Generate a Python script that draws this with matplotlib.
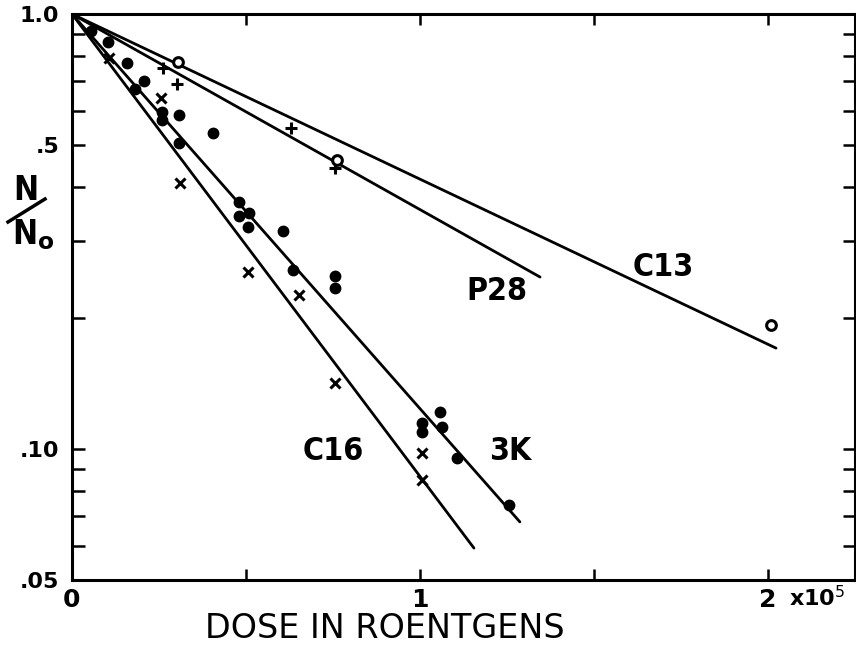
import numpy as np
import matplotlib.pyplot as plt
from matplotlib.ticker import FixedLocator, FixedFormatter, NullFormatter

# dose in units of 1e5 roentgens, surviving fraction N/No
dot_dose = [0.055, 0.103, 0.158, 0.207, 0.181, 0.259, 0.259, 0.307, 0.405, 0.307,
            0.480, 0.480, 0.509, 0.506, 0.606, 0.635, 0.756, 0.756,
            1.057, 1.006, 1.006, 1.063, 1.106, 1.256]
dot_frac = [0.914, 0.862, 0.772, 0.701, 0.672, 0.595, 0.571, 0.586, 0.533, 0.505,
            0.370, 0.343, 0.349, 0.324, 0.317, 0.258, 0.250, 0.2345,
            0.1217, 0.1148, 0.1094, 0.1123, 0.0954, 0.0743]

plus_dose = [0.262, 0.302, 0.629, 0.756]
plus_frac = [0.751, 0.690, 0.547, 0.443]

circ_dose = [0.305, 0.762, 2.009]
circ_frac = [0.776, 0.462, 0.193]

cross_dose = [0.106, 0.256, 0.310, 0.506, 0.652, 0.756, 1.006, 1.006]
cross_frac = [0.792, 0.641, 0.409, 0.255, 0.226, 0.1418, 0.0979, 0.0849]

# fitted lines, all starting at (0, 1.0)
line_names = ['C13', 'P28', '3K', 'C16']
line_end_dose = [2.023, 1.345, 1.287, 1.155]
line_end_frac = [0.1706, 0.2485, 0.0680, 0.0592]
label_dose = [1.70, 1.22, 1.26, 0.75]
label_frac = [0.262, 0.230, 0.0985, 0.0985]

W, H = 856, 648
fig = plt.figure(figsize=(W / 100, H / 100), dpi=100)
ax = fig.add_axes([72 / W, 1 - 580 / H, 783 / W, 566 / H])
ax.set_yscale('log')
ax.set_xlim(0, 2.25)
ax.set_ylim(0.05, 1.0)

lw = 2.0
for name, xe, ye, xl, yl in zip(line_names, line_end_dose, line_end_frac, label_dose, label_frac):
    ax.plot([0, xe], [1.0, ye], color='black', lw=lw, solid_capstyle='round')
    ax.text(xl, yl, name, ha='center', va='center', fontsize=23, fontweight='bold',
            fontstretch='condensed')

ax.plot(dot_dose, dot_frac, 'o', color='black', ms=7.5, ls='none')
ax.plot(plus_dose, plus_frac, '+', color='black', ms=9, mew=2.2, ls='none')
ax.plot(cross_dose, cross_frac, 'x', color='black', ms=7.5, mew=2.2, ls='none')
ax.plot(circ_dose, circ_frac, 'o', mfc='white', mec='black', ms=7, mew=2.2, ls='none')

for s in ax.spines.values():
    s.set_linewidth(2.2)

y_major = [0.05, 0.1, 0.5, 1.0]
y_labels = ['.05', '.10', '.5', '1.0']
y_minor = [0.06, 0.07, 0.08, 0.09, 0.2, 0.3, 0.4, 0.6, 0.7, 0.8, 0.9]
ax.yaxis.set_major_locator(FixedLocator(y_major))
ax.yaxis.set_major_formatter(FixedFormatter(y_labels))
ax.yaxis.set_minor_locator(FixedLocator(y_minor))
ax.yaxis.set_minor_formatter(NullFormatter())

x_major = [0, 0.5, 1, 1.5, 2]
x_labels = ['0', '', '1', '', '2']
ax.xaxis.set_major_locator(FixedLocator(x_major))
ax.xaxis.set_major_formatter(FixedFormatter(x_labels))

ax.tick_params(axis='both', which='both', direction='in', width=1.8,
               top=True, right=True)
ax.tick_params(axis='y', which='both', length=9, pad=9, labelsize=16)
ax.tick_params(axis='x', which='both', length=8, pad=6, labelsize=18)
for t in ax.get_xticklabels() + ax.get_yticklabels():
    t.set_fontweight('bold')

fig.text(789 / W, 1 - 598 / H, 'x10$^5$', fontsize=16, fontweight='bold',
         ha='left', va='center')

fig.text(385 / W, 1 - 629 / H, 'DOSE IN ROENTGENS', fontsize=24,
         ha='center', va='center')

# N / No stacked y label
fig.text(26 / W, 1 - 190 / H, 'N', fontsize=24, fontweight='bold',
         ha='center', va='center', fontstretch='condensed')
fig.add_artist(plt.Line2D([8 / W, 45 / W], [1 - 222 / H, 1 - 199 / H],
                          color='black', lw=2.5, transform=fig.transFigure))
fig.text(33 / W, 1 - 235 / H, 'N$_\\mathbf{o}$', fontsize=24, fontweight='bold',
         ha='center', va='center', fontstretch='condensed')

fig.savefig('out.png', dpi=100)
